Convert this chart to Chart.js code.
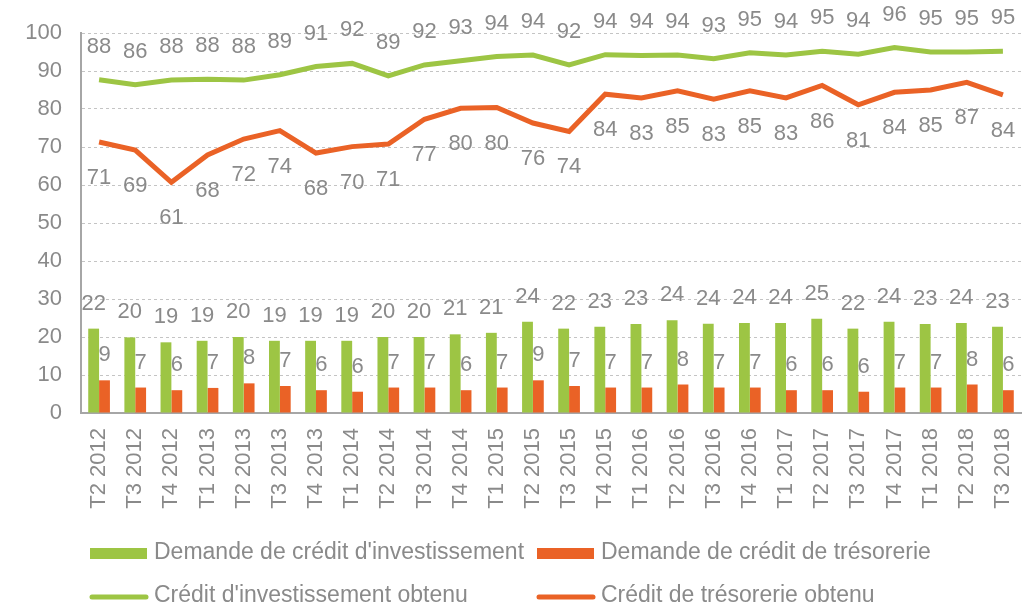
<!DOCTYPE html>
<html><head><meta charset="utf-8">
<script src="https://cdn.jsdelivr.net/npm/chart.js@4.4.1/dist/chart.umd.min.js"></script>
<style>html,body{margin:0;padding:0;background:#fff}#wrap{width:1024px;height:608px;position:relative}</style>
</head><body><div id="wrap"><canvas id="c"></canvas></div>
<script>
const categories = ["T2 2012","T3 2012","T4 2012","T1 2013","T2 2013","T3 2013","T4 2013","T1 2014","T2 2014","T3 2014","T4 2014","T1 2015","T2 2015","T3 2015","T4 2015","T1 2016","T2 2016","T3 2016","T4 2016","T1 2017","T2 2017","T3 2017","T4 2017","T1 2018","T2 2018","T3 2018"];
const demandeInvest = [22.2,19.9,18.6,19.0,20.0,19.0,19.0,19.0,20.0,20.0,20.7,21.1,24.0,22.2,22.7,23.4,24.4,23.5,23.7,23.7,24.8,22.2,24.0,23.4,23.7,22.7];
const demandeTreso = [8.6,6.7,6.0,6.6,7.8,7.1,6.0,5.6,6.7,6.7,6.0,6.7,8.6,7.1,6.7,6.7,7.5,6.7,6.7,6.0,6.0,5.6,6.7,6.7,7.5,6.0];
const obtenuInvest = [87.7,86.4,87.6,87.8,87.6,89.0,91.2,92.0,88.7,91.6,92.7,93.8,94.2,91.6,94.3,94.1,94.2,93.2,94.8,94.2,95.2,94.4,96.2,95.0,95.0,95.2];
const obtenuTreso = [71.3,69.2,60.7,67.9,72.1,74.3,68.4,70.1,70.8,77.3,80.2,80.4,76.3,74.1,83.9,82.9,84.8,82.6,84.8,82.9,86.2,81.1,84.4,85.0,87.0,83.7];
const yMin = 0, yMax = 100, yStep = 10;
const seriesNames = ["Demande de crédit d'investissement","Demande de crédit de trésorerie","Crédit d'investissement obtenu","Crédit de trésorerie obtenu"];

const GREEN = '#9dc544', ORANGE = '#ea6226', TEXT = '#8a8a8a';
const FONT = '"Liberation Sans", Arial, sans-serif';

const dataLabels = {
  id: 'dataLabels',
  afterDatasetsDraw(chart) {
    const ctx = chart.ctx;
    ctx.save();
    ctx.font = '22px ' + FONT;
    ctx.fillStyle = TEXT;
    ctx.textAlign = 'center';
    ctx.textBaseline = 'middle';
    chart.data.datasets.forEach((ds, i) => {
      const meta = chart.getDatasetMeta(i);
      meta.data.forEach((el, j) => {
        ctx.fillText(String(Math.round(ds.data[j])), el.x, el.y + ds.labelOffset);
      });
    });
    ctx.restore();
  }
};

const customLegend = {
  id: 'customLegend',
  afterDraw(chart) {
    const ctx = chart.ctx;
    const cols = [90, 537];
    const rows = [553, 596];
    ctx.save();
    ctx.font = '23px ' + FONT;
    ctx.textBaseline = 'middle';
    ctx.textAlign = 'left';
    chart.data.datasets.forEach((ds, i) => {
      const x = cols[i % 2], y = rows[Math.floor(i / 2)];
      if (ds.type === 'line') {
        ctx.strokeStyle = ds.borderColor;
        ctx.lineWidth = 5;
        ctx.lineCap = 'round';
        ctx.beginPath(); ctx.moveTo(x + 2, y + 1); ctx.lineTo(x + 56, y + 1); ctx.stroke();
      } else {
        ctx.fillStyle = ds.backgroundColor;
        ctx.fillRect(x, y - 5, 57, 11);
      }
      ctx.fillStyle = TEXT;
      ctx.fillText(ds.label, x + 64, y);
    });
    ctx.restore();
  }
};

new Chart(document.getElementById('c'), {
  type: 'bar',
  data: {
    labels: categories,
    datasets: [
      { type: 'bar', label: seriesNames[0], data: demandeInvest, backgroundColor: GREEN, order: 2, labelOffset: -25,
        categoryPercentage: 0.6, barPercentage: 1.0 },
      { type: 'bar', label: seriesNames[1], data: demandeTreso, backgroundColor: ORANGE, order: 2, labelOffset: -25,
        categoryPercentage: 0.6, barPercentage: 1.0 },
      { type: 'line', label: seriesNames[2], data: obtenuInvest, borderColor: GREEN, backgroundColor: GREEN, borderWidth: 5,
        pointRadius: 0, tension: 0, order: 1, labelOffset: -33 },
      { type: 'line', label: seriesNames[3], data: obtenuTreso, borderColor: ORANGE, backgroundColor: ORANGE, borderWidth: 5,
        pointRadius: 0, tension: 0, order: 1, labelOffset: 36 }
    ]
  },
  options: {
    responsive: true,
    maintainAspectRatio: false,
    animation: false,
    layout: { padding: { top: 33, right: 3, left: 0, bottom: 0 } },
    plugins: { legend: { display: false }, tooltip: { enabled: false } },
    scales: {
      x: {
        grid: { display: false, drawTicks: false },
        border: { display: true, color: '#a6a6a6', width: 2 },
        ticks: { color: TEXT, font: { family: FONT, size: 22 }, maxRotation: 90, minRotation: 90, padding: 15, autoSkip: false },
        afterFit(s) { s.height = 195; s.paddingLeft = 0; s.paddingRight = 0; }
      },
      y: {
        min: yMin, max: yMax,
        ticks: { stepSize: yStep, color: TEXT, font: { family: FONT, size: 22 }, padding: 19 },
        grid: { color: '#c4c4c4', lineWidth: 1, drawTicks: false },
        border: { display: true, color: '#a6a6a6', width: 2, dash: [3, 3] },
        afterFit(s) { s.width = 81; s.paddingTop = 0; s.paddingBottom = 0; }
      }
    }
  },
  plugins: [dataLabels, customLegend]
});
</script></body></html>
